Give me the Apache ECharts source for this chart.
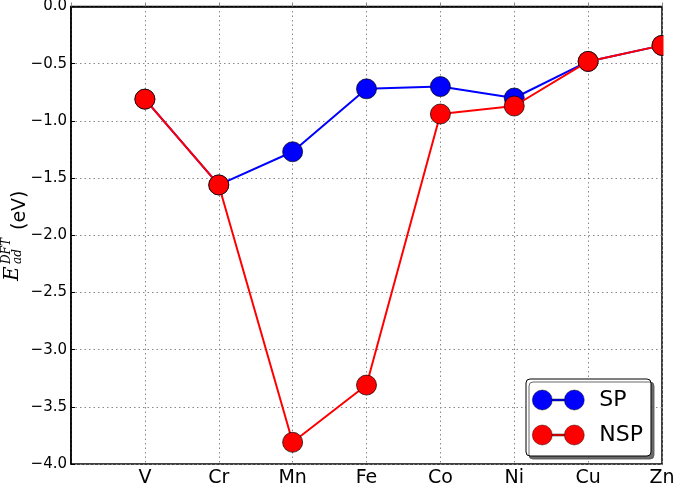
<!DOCTYPE html>
<html>
<head>
<meta charset="utf-8">
<script src="https://cdn.jsdelivr.net/npm/echarts@6/dist/echarts.min.js"></script>
<style>html,body{margin:0;padding:0;background:#fff;}#c{width:675px;height:485px;}</style>
</head>
<body>
<div id="c"></div>
<script>
var categories = ['', 'V', 'Cr', 'Mn', 'Fe', 'Co', 'Ni', 'Cu', 'Zn'];
var spValues  = [null, -0.81, -1.56, -1.27, -0.72, -0.70, -0.80, -0.48, -0.34];
var nspValues = [null, -0.81, -1.56, -3.81, -3.31, -0.94, -0.87, -0.48, -0.34];
var seriesNames = ['SP', 'NSP'];
var yMin = -4.0, yMax = 0.0, yStep = 0.5;

var chart = echarts.init(document.getElementById('c'), null, {renderer: 'canvas'});
var iconPath = 'path://M0,10A10,10,0,1,1,20,10A10,10,0,1,1,0,10ZM32,10A10,10,0,1,1,52,10A10,10,0,1,1,32,10ZM20,9L32,9L32,11L20,11Z';
var grid = {left: 71, top: 6.5, right: 13, bottom: 21};
var option = {
  animation: false,
  backgroundColor: '#fff',
  grid: {left: grid.left, top: grid.top, right: grid.right, bottom: grid.bottom, containLabel: false, outerBoundsMode: 'none',
         show: true, borderColor: '#000', borderWidth: 1.5, backgroundColor: 'transparent'},
  xAxis: {
    type: 'category', data: categories, boundaryGap: false,
    axisLine: {lineStyle: {color: '#000', width: 1.5}},
    axisTick: {show: true, inside: true, length: 4, lineStyle: {color: '#888'}},
    axisLabel: {fontFamily: 'DejaVu Sans', fontSize: 19, color: '#000', margin: 5, interval: 0, hideOverlap: false},
    splitLine: {show: true, lineStyle: {color: '#888', type: [1.5, 3], width: 1}}
  },
  yAxis: {
    type: 'value', min: yMin, max: yMax, interval: yStep,
    axisLine: {show: true, lineStyle: {color: '#000', width: 1.5}},
    axisTick: {show: true, inside: true, length: 4, lineStyle: {color: '#000'}},
    axisLabel: {fontFamily: 'DejaVu Sans', fontSize: 15, color: '#000', margin: 4,
      formatter: function (v) { return v.toFixed(1).replace('-', '\u2212'); }},
    splitLine: {show: true, lineStyle: {color: '#888', type: [1.5, 3], width: 1}}
  },
  legend: {
    left: 526, top: 379, orient: 'vertical',
    data: seriesNames.map(function (n) { return {name: n, icon: iconPath}; }),
    itemWidth: 52, itemHeight: 20, itemGap: 13,
    padding: [10, 8, 10, 6],
    backgroundColor: '#fff', borderColor: '#000', borderWidth: 1, borderRadius: 4,
    shadowColor: 'rgba(90,90,90,0.9)', shadowOffsetX: 3, shadowOffsetY: 3, shadowBlur: 0,
    itemStyle: {borderColor: 'rgba(0,0,0,0.7)', borderWidth: 0.6},
    textStyle: {fontFamily: 'DejaVu Sans', fontSize: 22, color: '#000', padding: [0, 0, 0, 10]},
    selectedMode: false
  },
  graphic: [
    {type: 'rect', shape: {x: 663.5, y: 0, width: 12, height: 463}, style: {fill: '#fff'}, z: 50, silent: true},
    {type: 'text', x: 13, y: 281, rotation: Math.PI / 2,
     style: {text: 'E', font: 'italic 20px "DejaVu Serif"', fill: '#000', textAlign: 'left', textVerticalAlign: 'middle'}},
    {type: 'text', x: 7, y: 264, rotation: Math.PI / 2,
     style: {text: 'DFT', font: 'italic 12px "DejaVu Serif"', fill: '#000', textAlign: 'left', textVerticalAlign: 'middle'}},
    {type: 'text', x: 18, y: 264, rotation: Math.PI / 2,
     style: {text: 'ad', font: 'italic 12px "DejaVu Serif"', fill: '#000', textAlign: 'left', textVerticalAlign: 'middle'}},
    {type: 'text', x: 20, y: 230, rotation: Math.PI / 2,
     style: {text: '(eV)', font: '19px "DejaVu Sans"', fill: '#000', textAlign: 'left', textVerticalAlign: 'middle'}}
  ],
  series: [
    {name: seriesNames[0], type: 'line', data: spValues, symbol: 'circle', symbolSize: 20, clip: true,
     lineStyle: {color: '#0000ff', width: 2}, itemStyle: {color: '#0000ff', borderColor: '#000', borderWidth: 0.7}, z: 2},
    {name: seriesNames[1], type: 'line', data: nspValues, symbol: 'circle', symbolSize: 20, clip: true,
     lineStyle: {color: '#ff0000', width: 2}, itemStyle: {color: '#ff0000', borderColor: '#000', borderWidth: 0.7}, z: 3}
  ]
};
chart.setOption(option);
</script>
</body>
</html>
